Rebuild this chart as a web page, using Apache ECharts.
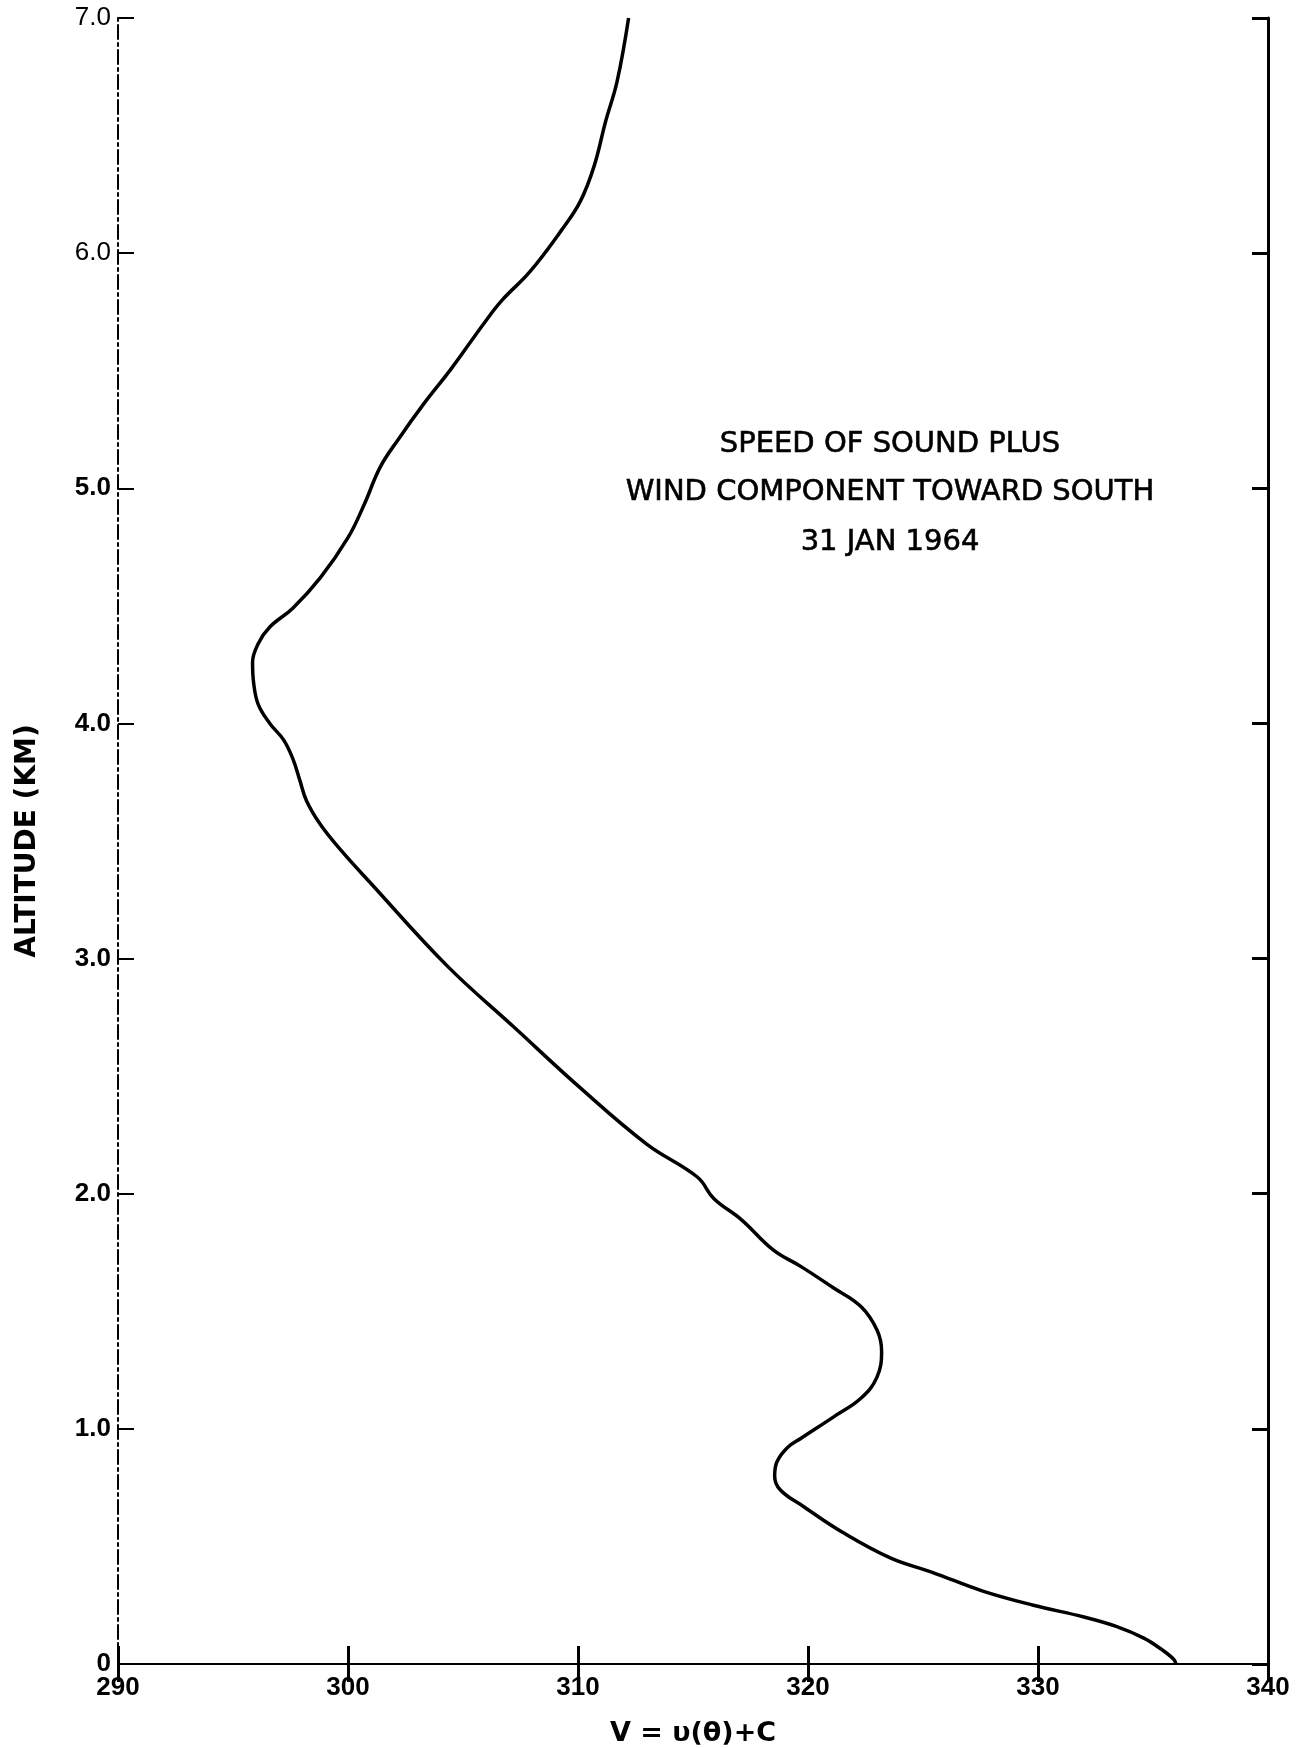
<!DOCTYPE html>
<html><head><meta charset="utf-8">
<script src="https://cdn.jsdelivr.net/npm/echarts@6/dist/echarts.min.js"></script>
<style>html,body{margin:0;padding:0;background:#fff}#c{width:1299px;height:1748px}</style>
</head><body><div id="c"></div>
<script>
// speed V (m/s) vs altitude (km)
var speed = [312.2,311.7,311.2,310.7,310.1,309.3,307.9,306.7,305.9,304.5,303.3,302.2,301.4,300.7,300.0,298.8,297.6,296.6,296.1,295.85,295.9,296.1,296.6,297.2,297.6,297.9,298.2,298.8,299.7,300.9,304.3,307.2,310.1,313.0,315.2,315.9,317.1,318.5,319.7,321.1,322.3,323.0,323.2,323.0,322.3,321.1,319.7,319.1,318.65,318.55,318.8,319.8,321.5,323.6,325.4,327.6,329.8,332.0,333.4,334.6,335.4,335.9,336.0];
var altitude = [7.0,6.73,6.56,6.37,6.22,6.10,5.92,5.80,5.70,5.51,5.36,5.21,5.09,4.93,4.79,4.62,4.49,4.41,4.34,4.26,4.17,4.08,4.00,3.93,3.85,3.76,3.67,3.57,3.46,3.33,2.97,2.71,2.45,2.21,2.07,1.98,1.89,1.76,1.69,1.60,1.52,1.42,1.33,1.22,1.13,1.05,0.96,0.92,0.86,0.80,0.74,0.67,0.56,0.45,0.39,0.31,0.25,0.20,0.16,0.11,0.06,0.02,0.0];
var xTicks = ['290','300','310','320','330','340'];
var yTicks = ['0','1.0','2.0','3.0','4.0','5.0','6.0','7.0'];
var titleLines = ['SPEED OF SOUND PLUS','WIND COMPONENT TOWARD SOUTH','31 JAN 1964'];
var xName = 'V = \u03c5(\u03b8)+C';
var yName = 'ALTITUDE (KM)';

var pts = speed.map(function(v,i){return [v, altitude[i]];});
var FONT = '"Liberation Sans", Arial, sans-serif';
var WIDE = '"DejaVu Sans", "Liberation Sans", sans-serif';
var chart = echarts.init(document.getElementById('c'));
var axLine = {show:true, lineStyle:{color:'#000', width:2}};
function titleText(i, y){
  return {type:'text', x:890, y:y, style:{text:titleLines[i], fill:'#000', stroke:'#000', lineWidth:0.6,
    font:'normal 29px '+WIDE, textAlign:'center', textVerticalAlign:'middle'}};
}
chart.setOption({
  animation:false,
  backgroundColor:'#fff',
  grid:{left:118, right:31, top:18, bottom:84, outerBoundsMode:'none', containLabel:false},
  xAxis:[{
    type:'value', min:290, max:340, interval:10, position:'bottom',
    axisLine:axLine,
    axisTick:{show:true, inside:true, length:18, lineStyle:{color:'#000', width:3}},
    axisLabel:{margin:11, color:'#000', fontFamily:FONT, fontWeight:'bold', fontSize:26,
      formatter:function(v){var i=Math.round((v-290)/10);return xTicks[i]||'';}},
    splitLine:{show:false},
    name:xName, nameLocation:'middle', nameGap:56,
    nameTextStyle:{color:'#000', fontFamily:WIDE, fontWeight:'bold', fontSize:27}
  },{
    type:'value', min:290, max:340, interval:10, position:'top',
    axisLine:axLine,
    axisTick:{show:true, inside:true, length:18, lineStyle:{color:'#000', width:3}},
    axisLabel:{show:false}, splitLine:{show:false}
  }],
  yAxis:[{
    type:'value', min:0, max:7, interval:1, position:'left',
    axisLine:{show:true, lineStyle:{color:'#000', width:2, type:[14,4,3,4]}},
    axisTick:{show:true, inside:true, length:16, lineStyle:{color:'#000', width:2}},
    axisLabel:{margin:7, color:'#000', fontFamily:FONT, fontSize:26,
      formatter:function(v){var i=Math.round(v);var s=yTicks[i]||'';return i>=6?'{n|'+s+'}':'{b|'+s+'}';},
      rich:{n:{fontFamily:FONT, fontSize:26, fontWeight:'normal', color:'#000'},
            b:{fontFamily:FONT, fontSize:26, fontWeight:'bold', color:'#000'}}},
    splitLine:{show:false},
    name:yName, nameLocation:'middle', nameGap:76, nameRotate:90,
    nameTextStyle:{color:'#000', fontFamily:WIDE, fontWeight:'bold', fontSize:28}
  },{
    type:'value', min:0, max:7, interval:1, position:'right',
    axisLine:{show:true, lineStyle:{color:'#000', width:3}},
    axisTick:{show:true, inside:true, length:16, lineStyle:{color:'#000', width:3}},
    axisLabel:{show:false}, splitLine:{show:false}
  }],
  graphic:[titleText(0,444), titleText(1,492), titleText(2,542)],
  series:[{
    type:'line', xAxisIndex:0, yAxisIndex:0, data:pts, smooth:0.4, showSymbol:false,
    lineStyle:{color:'#000', width:3.5}
  }]
});
</script></body></html>
